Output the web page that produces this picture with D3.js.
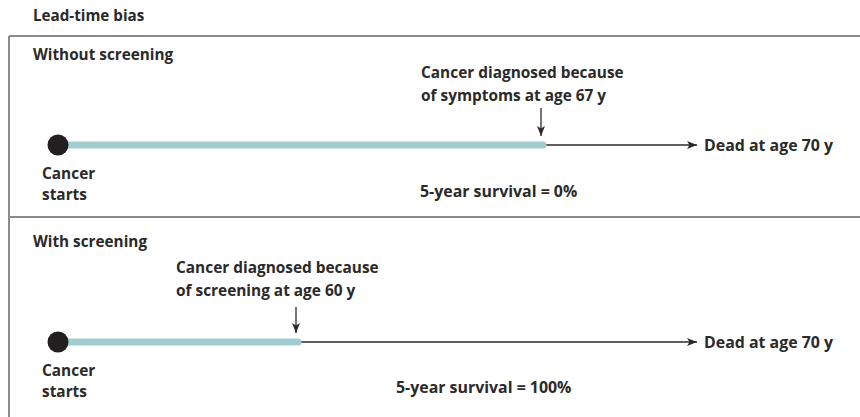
<!DOCTYPE html>
<html lang="en">
<head>
    <meta charset="UTF-8">
    <title>Lead-time bias</title>
    <style>
        body { margin: 0; padding: 0; background: #ffffff; }
        svg text {
            font-family: "Open Sans", "Noto Sans", sans-serif;
            font-weight: bold;
            fill: #2b2929;
        }
    </style>
</head>
<body>
    <svg id="chart" width="860" height="417"></svg>

    <script src="https://d3js.org/d3.v7.min.js"></script>
    <script>
        // Panels (one row per scenario)
        var panels = ['Without screening', 'With screening'];
        // Ages along the timeline
        var startAge = 53;          // cancer starts (schematic)
        var diagnosisAges = [67, 60];
        var deathAges = [70, 70];
        var diagnosisLabels = [
            ['Cancer diagnosed because', 'of symptoms at age 67 y'],
            ['Cancer diagnosed because', 'of screening at age 60 y']
        ];
        var deathLabels = ['Dead at age 70 y', 'Dead at age 70 y'];
        var survivalLabels = ['5-year survival = 0%', '5-year survival = 100%'];

        var svg = d3.select('#chart');
        var teal = '#a2cdd0';
        var ink = '#2b2929';

        // schematic (piecewise) timeline scale
        var xScale = d3.scaleLinear()
            .domain([53, 60, 67, 70])
            .range([58, 296, 541, 697]);

        // panel vertical offsets
        var yScale = d3.scalePoint()
            .domain(panels)
            .range([0, 197]);

        var defs = svg.append('defs');
        defs.append('marker')
            .attr('id', 'head')
            .attr('viewBox', '0 0 10 10')
            .attr('refX', 10).attr('refY', 5)
            .attr('markerWidth', 10).attr('markerHeight', 10)
            .attr('markerUnits', 'userSpaceOnUse')
            .attr('orient', 'auto')
            .append('path')
            .attr('d', 'M0,1 L10,5 L0,9 L2.5,5 Z')
            .attr('fill', ink);

        // title
        svg.append('text')
            .attr('x', 33).attr('y', 21)
            .style('font-size', '15.2px')
            .text('Lead-time bias');

        // frame lines
        svg.append('line')
            .attr('x1', 9).attr('x2', 860).attr('y1', 36).attr('y2', 36)
            .attr('stroke', '#8a8a8a').attr('stroke-width', 2);
        svg.append('line')
            .attr('x1', 9).attr('x2', 9).attr('y1', 36).attr('y2', 417)
            .attr('stroke', '#8a8a8a').attr('stroke-width', 2);
        svg.append('line')
            .attr('x1', 9).attr('x2', 860).attr('y1', 217).attr('y2', 217)
            .attr('stroke', '#8a8a8a').attr('stroke-width', 2);

        var rows = panels.map(function(p, i) {
            return {
                name: p,
                diag: diagnosisAges[i],
                death: deathAges[i],
                diagLabel: diagnosisLabels[i],
                deathLabel: deathLabels[i],
                survival: survivalLabels[i]
            };
        });

        var g = svg.selectAll('.panel')
            .data(rows)
            .enter()
            .append('g')
            .attr('class', 'panel')
            .attr('transform', function(d) { return 'translate(0,' + yScale(d.name) + ')'; });

        var lineY = 145;

        // panel heading (second heading sits closer to the divider)
        g.append('text')
            .attr('x', 33)
            .attr('y', function(d, i) { return i === 0 ? 60 : 50; })
            .style('font-size', '15.3px')
            .text(function(d) { return d.name; });

        // thin line to death with arrowhead
        g.append('line')
            .attr('x1', function(d) { return xScale(d.diag); })
            .attr('x2', function(d) { return xScale(d.death); })
            .attr('y1', lineY).attr('y2', lineY)
            .attr('stroke', ink).attr('stroke-width', 1.3)
            .attr('marker-end', 'url(#head)');

        // teal bar from onset to diagnosis
        g.append('line')
            .attr('x1', xScale(startAge))
            .attr('x2', function(d) { return xScale(d.diag) + 2; })
            .attr('y1', lineY).attr('y2', lineY)
            .attr('stroke', teal).attr('stroke-width', 7)
            .attr('stroke-linecap', 'round');

        // start dot
        g.append('circle')
            .attr('cx', xScale(startAge))
            .attr('cy', lineY)
            .attr('r', 10.5)
            .attr('fill', '#231f20');

        // diagnosis arrow
        g.append('line')
            .attr('x1', function(d) { return xScale(d.diag); })
            .attr('x2', function(d) { return xScale(d.diag); })
            .attr('y1', function(d, i) { return i === 0 ? 108 : 110; })
            .attr('y2', 136)
            .attr('stroke', ink).attr('stroke-width', 1.3)
            .attr('marker-end', 'url(#head)');

        // diagnosis label
        g.append('text')
            .attr('x', function(d) { return xScale(d.diag) - 120; })
            .attr('y', function(d, i) { return i === 0 ? 78 : 76; })
            .style('font-size', '15.4px')
            .selectAll('tspan')
            .data(function(d) { return d.diagLabel; })
            .enter()
            .append('tspan')
            .attr('x', function() { return d3.select(this.parentNode).attr('x'); })
            .attr('dy', function(d, i) { return i === 0 ? 0 : 23; })
            .text(function(d) { return d; });

        // death label
        g.append('text')
            .attr('x', function(d) { return xScale(d.death) + 7; })
            .attr('y', 151)
            .style('font-size', '15.9px')
            .text(function(d) { return d.deathLabel; });

        // cancer starts
        g.append('text')
            .attr('x', 42).attr('y', 179)
            .style('font-size', '15.4px')
            .selectAll('tspan')
            .data(['Cancer', 'starts'])
            .enter()
            .append('tspan')
            .attr('x', 42)
            .attr('dy', function(d, i) { return i === 0 ? 0 : 21; })
            .text(function(d) { return d; });

        // survival
        g.append('text')
            .attr('x', function(d, i) { return i === 0 ? 420 : 396; })
            .attr('y', function(d, i) { return i === 0 ? 197 : 196; })
            .style('font-size', '15.9px')
            .text(function(d) { return d.survival; });
    </script>
</body>
</html>
